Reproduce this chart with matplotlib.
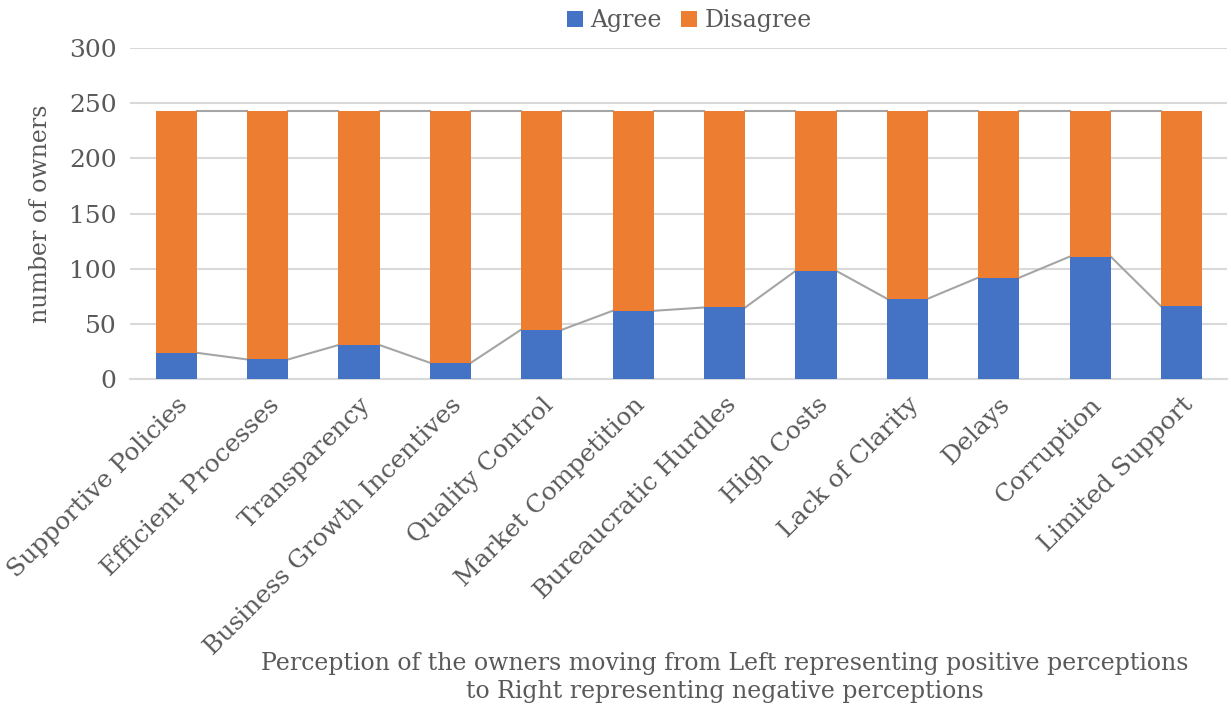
import matplotlib

matplotlib.use("Agg")
import matplotlib.pyplot as plt
import numpy as np

plt.rcParams["font.family"] = ["DejaVu Serif"]

# survey answers per perception, left = positive, right = negative
categories = [
    "Supportive Policies",
    "Efficient Processes",
    "Transparency",
    "Business Growth Incentives",
    "Quality Control",
    "Market Competition",
    "Bureaucratic Hurdles",
    "High Costs",
    "Lack of Clarity",
    "Delays",
    "Corruption",
    "Limited Support",
]
agree = [24, 18, 31, 15, 45, 62, 65, 98, 73, 92, 111, 66]
disagree = [219, 225, 212, 228, 198, 181, 178, 145, 170, 151, 132, 177]
y_ticks = [0, 50, 100, 150, 200, 250, 300]

BLUE = "#4472c4"
ORANGE = "#ed7d31"
GREY = "#a5a5a5"
TEXT = "#595959"

fig = plt.figure(figsize=(12.31, 7.13), dpi=100)
ax = fig.add_axes([0.106, 0.468, 0.891, 0.465])

x = np.arange(len(categories))
width = 0.45
agree = np.array(agree)
disagree = np.array(disagree)
total = agree + disagree

ax.bar(x, agree, width, color=BLUE, label="Agree", zorder=3)
ax.bar(x, disagree, width, bottom=agree, color=ORANGE, label="Disagree", zorder=3)

# series lines joining the segment tops of neighbouring bars
for tops in (agree, total):
    for i in range(len(x) - 1):
        ax.plot([x[i] + width / 2, x[i + 1] - width / 2], [tops[i], tops[i + 1]],
                color=GREY, lw=1.5, zorder=2)

ax.set_xlim(-0.5, len(x) - 0.5)
ax.set_ylim(0, 300)
ax.set_yticks(y_ticks)
ax.yaxis.grid(True, color="#d9d9d9", lw=1.5, zorder=0)
ax.set_axisbelow(True)
for side in ("top", "right", "left"):
    ax.spines[side].set_visible(False)
ax.spines["bottom"].set_color("#d9d9d9")
ax.spines["bottom"].set_linewidth(1.5)
ax.tick_params(axis="both", length=0, labelsize=18, colors=TEXT, pad=10)
ax.set_xticks(x)
ax.set_xticklabels(categories, rotation=45, ha="right", rotation_mode="anchor")

ax.set_ylabel("number of owners", fontsize=17, color=TEXT, labelpad=12)
fig.text(0.589, 0.05,
         "Perception of the owners moving from Left representing positive perceptions\n"
         "to Right representing negative perceptions",
         ha="center", va="center", fontsize=17, color=TEXT, linespacing=1.3)

fig.legend(loc="center", bbox_to_anchor=(0.56, 0.971), ncol=2, frameon=False,
           fontsize=17, labelcolor=TEXT, handlelength=0.7, handleheight=0.7,
           handletextpad=0.3, columnspacing=0.8)

fig.savefig("out.png", dpi=100)
